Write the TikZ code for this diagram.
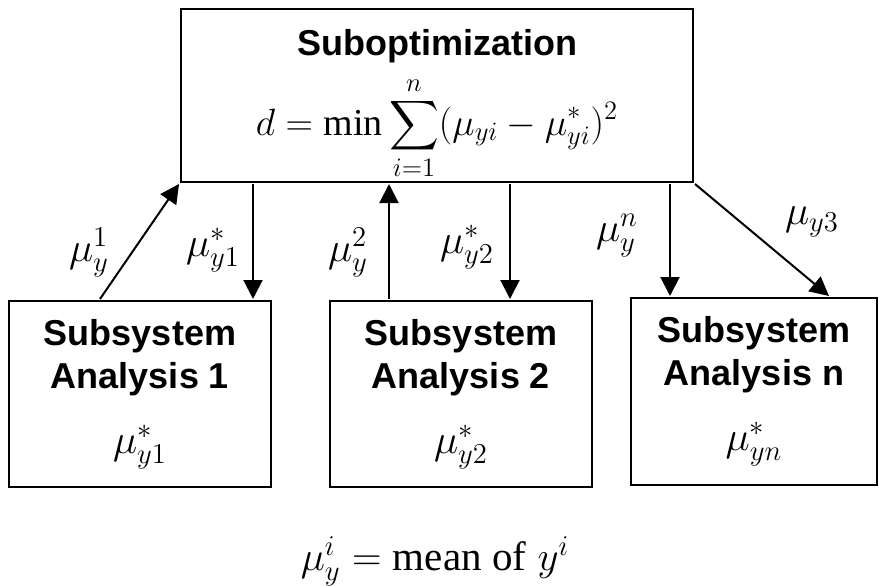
\RequirePackage{fix-cm}
\documentclass[tikz,border=0pt]{standalone}
\usepackage{amsmath}
\usepackage{fontspec}
\setmainfont{Liberation Serif}
\setsansfont{Liberation Sans}
\usetikzlibrary{arrows.meta,positioning}

\begin{document}
\begin{tikzpicture}[
  x=1pt,
  y=-1pt,
  every node/.style={scale=2, font=\fontsize{20.5}{24.5}\selectfont, inner sep=0pt},
  block/.style={draw, line width=2pt, align=center,
                font=\fontsize{18}{21.5}\selectfont\sffamily\bfseries},
  flow/.style={line width=2pt, -{Triangle[length=19pt, width=19pt]}}
]
  \useasboundingbox (0,0) rectangle (879,586);

  % ---- the coordinator on top (node sizes are halved by scale=2) ---------
  \node[block, minimum width=256pt, minimum height=86.5pt] (opt) at (437,95.5)
    {\rule{0pt}{22.4pt}Suboptimization\\[5.5pt]
     {\fontsize{19}{23}\selectfont
      $\displaystyle d=\min\sum_{i=1}^{n}(\mu_{yi}-\mu^{*}_{yi})^{2}$}};

  % ---- the three subsystems -----------------------------------------------
  \node[block, minimum width=131pt, minimum height=93pt] (sa1) at (140,394)
    {Subsystem\\Analysis 1\\[11pt]
     {\fontsize{20.5}{24.5}\selectfont$\mu^{*}_{y1}$}};
  \node[block, minimum width=131pt, minimum height=93pt] (sa2) at (461,394)
    {Subsystem\\Analysis 2\\[11pt]
     {\fontsize{20.5}{24.5}\selectfont$\mu^{*}_{y2}$}};
  \node[block, minimum width=123pt, minimum height=93.5pt] (san) at (754,391.5)
    {Subsystem\\Analysis n\\[11pt]
     {\fontsize{20.5}{24.5}\selectfont$\mu^{*}_{yn}$}};

  % ---- links between the levels -------------------------------------------
  \draw[flow] ([xshift=-40pt]sa1.north) -- (opt.south west);
  \draw[flow] ([xshift=113pt]sa1.north |- opt.south) -- ([xshift=113pt]sa1.north);
  \draw[flow] ([xshift=-72pt]sa2.north) -- ([xshift=-72pt]sa2.north |- opt.south);
  \draw[flow] ([xshift=49pt]sa2.north |- opt.south) -- ([xshift=49pt]sa2.north);
  \draw[flow] ([xshift=-84pt]san.north |- opt.south) -- ([xshift=-84pt]san.north);
  \draw[flow] (opt.south east) -- ([xshift=75pt]san.north);

  % ---- what travels along them ------------------------------------------
  \node (up1)   at (89,253)  {$\mu_{y}^{1}$};
  \node (down1) at (213,250) {$\mu^{*}_{y1}$};
  \node (up2)   at (348,253) {$\mu_{y}^{2}$};
  \node (down2) at (467,247) {$\mu^{*}_{y2}$};
  \node (upn)   at (617,236) {$\mu_{y}^{n}$};
  \node (down3) at (812,222) {$\mu_{y3}$};

  % ---- key under the diagram ----------------------------------------------
  \node[anchor=base] (key) at (435,570)
    {$\mu_{y}^{i}=\mathrm{mean\ of}\;y^{i}$};
\end{tikzpicture}
\end{document}
